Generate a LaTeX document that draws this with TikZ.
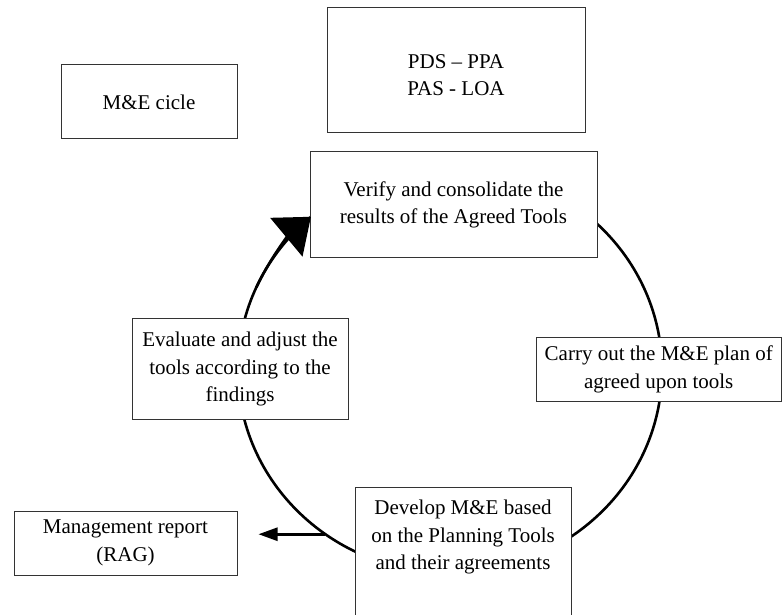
\documentclass[tikz,border=0pt]{standalone}
\usepackage{fontspec}
\setmainfont{Liberation Serif}
\usetikzlibrary{arrows.meta,calc}
\tikzset{
  box/.style={draw=black!80, line width=1pt, fill=white, inner sep=0pt, align=center,
    font=\fontsize{21pt}{27.5pt}\selectfont},
  txt/.style={inner sep=0pt, align=center, font=\fontsize{21pt}{27.5pt}\selectfont},
  cycleline/.style={line width=2.6pt, black},
  flowarrow/.style={line width=2.6pt, black}
}
\begin{document}
\begin{tikzpicture}[x=1pt,y=1pt]
\useasboundingbox (0,0) rectangle (782,614);
\clip (0,0) rectangle (782,614);
% cycle
\coordinate (ctr) at (450,244);
\draw[cycleline] (ctr) ellipse [x radius=212, y radius=203];
% boxes
\node[box, minimum width=176pt, minimum height=74pt] (mecycle) at (149,512) {M\&E cicle};
\node[box, minimum width=258pt, minimum height=125pt] (pds) at (456,543.5) {};
\node[txt] (pdstext) at (456,539) {PDS -- PPA\\PAS - LOA};
\node[box, minimum width=287pt, minimum height=106pt] (verify) at (453.5,409)
  {Verify and consolidate the\\results of the Agreed Tools};
\node[box, minimum width=245.5pt, minimum height=63pt] (carry) at (658.75,244.5)
  {Carry out the M\&E plan of\\agreed upon tools};
\node[box, minimum width=216pt, minimum height=100pt] (evaluate) at (240,245)
  {Evaluate and adjust the\\tools according to the\\findings};
\node[box, minimum width=223pt, minimum height=64pt] (report) at (125.5,71)
  {Management report\\(RAG)};
\node[box, anchor=north, minimum width=216pt, minimum height=170pt] (developbox) at (463,127) {};
\node[txt] (develop) at (463,77)
  {Develop M\&E based\\on the Planning Tools\\and their agreements};
% arrowhead of the cycle
\draw[cycleline, -{Triangle[length=32pt,width=50pt]}]
  ($(ctr)+(156:212 and 203)$) arc[start angle=156, end angle=131, x radius=212, y radius=203];
% arrow to management report
\coordinate (split) at ($(ctr)+(234:212 and 203)$);
\draw[flowarrow, -{Triangle[length=19pt,width=13pt]}, shorten >=21pt]
  (split) -- (split -| report.east);
\end{tikzpicture}
\end{document}
